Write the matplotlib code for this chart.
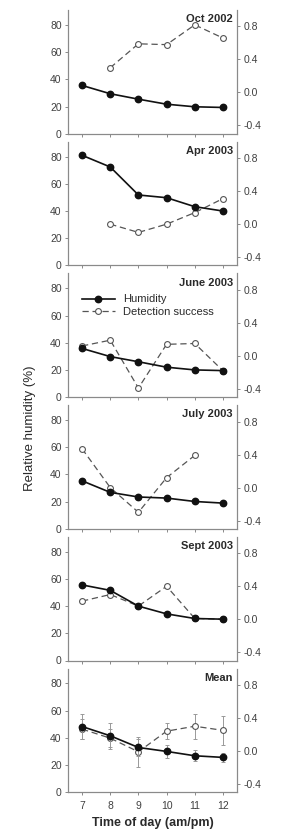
import numpy as np
import matplotlib
matplotlib.use("Agg")
import matplotlib.pyplot as plt
from matplotlib.lines import Line2D

plt.rcParams['font.family'] = ['Liberation Sans', 'DejaVu Sans']

hours = [7, 8, 9, 10, 11, 12]
hour_labels = ['7', '8', '9', '10', '11', '12']
panel_titles = ['Oct 2002', 'Apr 2003', 'June 2003', 'July 2003', 'Sept 2003', 'Mean']

humidity_oct = [35.5, 29.4, 25.4, 21.7, 19.8, 19.3]
humidity_apr = [81.0, 72.4, 51.8, 49.8, 43.2, 40.0]
humidity_jun = [35.8, 29.8, 26.0, 22.0, 20.0, 19.5]
humidity_jul = [35.3, 26.8, 23.4, 22.6, 20.1, 18.9]
humidity_sep = [55.6, 51.6, 40.0, 34.3, 30.9, 30.4]
humidity_mean = [48.3, 41.5, 32.9, 30.0, 26.8, 25.6]
humidity_mean_err = [9.0, 9.5, 6.0, 5.0, 4.0, 3.5]

detection_oct = [np.nan, 0.30, 0.59, 0.58, 0.82, 0.66]
detection_apr = [np.nan, 0.00, -0.10, 0.00, 0.14, 0.31]
detection_jun = [0.12, 0.19, -0.39, 0.14, 0.15, -0.18]
detection_jul = [0.47, 0.00, -0.30, 0.12, 0.39, np.nan]
detection_sep = [0.22, 0.30, 0.16, 0.40, 0.01, 0.00]
detection_mean = [0.265, 0.155, -0.01, 0.24, 0.30, 0.25]
detection_mean_err = [0.12, 0.11, 0.18, 0.10, 0.15, 0.18]

humidity_all = [humidity_oct, humidity_apr, humidity_jun, humidity_jul, humidity_sep, humidity_mean]
detection_all = [detection_oct, detection_apr, detection_jun, detection_jul, detection_sep, detection_mean]

W, H = 284, 835
fig = plt.figure(figsize=(W / 100, H / 100), dpi=100)

left_px, right_px = 68, 237
top0, panel_h, gap = 10, 123.7, 8.0

spine_c = '#8a8a8a'
text_c = '#2a2a2a'
tick_c = '#404040'
hum_c = '#111111'
det_c = '#555555'

for i in range(6):
    top_px = top0 + i * (panel_h + gap)
    bot_px = top_px + panel_h
    ax = fig.add_axes([left_px / W, 1 - bot_px / H, (right_px - left_px) / W, panel_h / H])
    ax2 = ax.twinx()
    ax.set_zorder(ax2.get_zorder() + 1)
    ax.patch.set_visible(False)

    ax.set_xlim(6.5, 12.5)
    ax.set_ylim(0, 91)
    ax2.set_ylim(-0.5, 1.0)

    for a in (ax, ax2):
        a.spines['top'].set_visible(False)
        for s in ('left', 'right', 'bottom'):
            a.spines[s].set_color(spine_c)
            a.spines[s].set_linewidth(0.8)
        a.tick_params(colors=spine_c, labelcolor=tick_c, labelsize=7.5, length=2.5, width=0.7, pad=2)

    ax.set_yticks([0, 20, 40, 60, 80])
    ax2.set_yticks([-0.4, 0.0, 0.4, 0.8])
    ax2.set_yticklabels(['-0.4', '0.0', '0.4', '0.8'])
    ax.set_xticks(hours)
    if i == 5:
        ax.set_xticklabels(hour_labels)
        ax.tick_params(axis='x', labelsize=7.5, pad=4)
        ax.set_xlabel('Time of day (am/pm)', fontsize=9, fontweight='bold', color=text_c, labelpad=4)
    else:
        ax.set_xticklabels([])

    hum = humidity_all[i]
    det = detection_all[i]
    if i == 5:
        ax2.errorbar(hours, det, yerr=detection_mean_err, fmt='none', ecolor='#999999',
                     elinewidth=0.7, capsize=1.5, capthick=0.7, zorder=1)
        ax.errorbar(hours, hum, yerr=humidity_mean_err, fmt='none', ecolor='#999999',
                    elinewidth=0.7, capsize=1.5, capthick=0.7, zorder=1)
    ax2.plot(hours, det, color=det_c, lw=0.9, dashes=(5, 3), marker='o', ms=4.2,
             mfc='white', mec=det_c, mew=0.8, zorder=2)
    ax.plot(hours, hum, color=hum_c, lw=1.2, marker='o', ms=4.6,
            mfc=hum_c, mec=hum_c, zorder=3)

    ax.text(0.975, 0.925, panel_titles[i], transform=ax.transAxes, ha='right', va='center',
            fontsize=8, fontweight='bold', color=text_c)

    if i == 2:
        handles = [Line2D([], [], color=hum_c, lw=1.2, marker='o', ms=4.6, mfc=hum_c, mec=hum_c),
                   Line2D([], [], color=det_c, lw=0.9, dashes=(5, 3), marker='o', ms=4.2,
                          mfc='white', mec=det_c, mew=0.8)]
        ax.legend(handles, ['Humidity', 'Detection success'], loc='upper left',
                  bbox_to_anchor=(0.085, 0.83), frameon=False, fontsize=8,
                  handlelength=2.9, handletextpad=0.8, labelspacing=0.22,
                  borderpad=0, borderaxespad=0, labelcolor=text_c)

fig.text(30 / W, 1 - 428 / H, 'Relative humidity (%)', rotation=90, ha='center', va='center',
         fontsize=9.5, color=text_c)

fig.savefig('out.png', dpi=100)
